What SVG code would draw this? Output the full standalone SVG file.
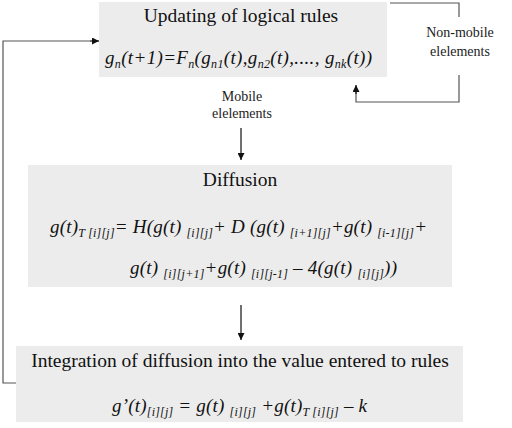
<svg xmlns="http://www.w3.org/2000/svg" width="512" height="428" viewBox="0 0 512 428">
<defs>
<marker id="ah" viewBox="0 0 10 10" refX="10" refY="5" markerWidth="7" markerHeight="7" markerUnits="userSpaceOnUse" orient="auto">
<path d="M0,0 L10,5 L0,10 Z" fill="#111"/>
</marker>
<style>
.box{fill:#ececec;stroke:none}
.title{font-size:19.5px;text-anchor:middle;fill:#111}
.f{font-size:19px;font-style:italic;fill:#111}
.s{font-size:12px}
.ln{fill:none;stroke:#555;stroke-width:1.2}
.ar{fill:none;stroke:#111;stroke-width:1.2;marker-end:url(#ah)}
</style>
</defs>
<rect width="512" height="428" fill="#fff"/>
<g id="connectors">
<polyline class="ln" points="16,383 3,383 3,41 90,41"/>
<line class="ar" x1="90" y1="41" x2="99" y2="41"/>
<polyline class="ln" points="390,3 459,3 459,17"/>
<polyline class="ln" points="459,75 459,102 356,102 356,92"/>
<line class="ar" x1="356" y1="94" x2="356" y2="85"/>
<line class="ar" x1="241" y1="128" x2="241" y2="160"/>
<line class="ar" x1="241" y1="305" x2="241" y2="340"/>
</g>
<g id="lbl-nonmobile">
<text font-family="Tinos, 'Liberation Serif', serif" font-size="14" text-anchor="middle" fill="#222" x="460" y="37">Non-mobile</text>
<text font-family="Tinos, 'Liberation Serif', serif" font-size="14" text-anchor="middle" fill="#222" x="460" y="56">elelements</text>
</g>
<g id="lbl-mobile">
<text font-family="Tinos, 'Liberation Serif', serif" font-size="14" text-anchor="middle" fill="#222" x="242" y="101">Mobile</text>
<text font-family="Tinos, 'Liberation Serif', serif" font-size="14" text-anchor="middle" fill="#222" x="242" y="118">elelements</text>
</g>
<g id="update">
<rect class="box" x="99" y="2" width="288" height="75"/>
<text class="title" font-family="'Liberation Serif'" x="241" y="22">Updating of logical rules</text>
<text class="f" font-family="'Liberation Serif'" x="105" y="64" textLength="267" lengthAdjust="spacing">g<tspan class="s" dy="4">n</tspan><tspan dy="-4">(t+1)=F</tspan><tspan class="s" dy="4">n</tspan><tspan dy="-4">(g</tspan><tspan class="s" dy="4">n1</tspan><tspan dy="-4">(t),g</tspan><tspan class="s" dy="4">n2</tspan><tspan dy="-4">(t),...., g</tspan><tspan class="s" dy="4">nk</tspan><tspan dy="-4">(t))</tspan></text>
</g>
<g id="diffusion">
<rect class="box" x="28" y="165" width="424" height="122"/>
<text class="title" font-family="'Liberation Serif'" x="240" y="186">Diffusion</text>
<text class="f" font-family="'Liberation Serif'" x="50" y="233" textLength="377" lengthAdjust="spacing">g(t)<tspan class="s" dy="4">T [i][j]</tspan><tspan dy="-4">= H(g(t) </tspan><tspan class="s" dy="4">[i][j]</tspan><tspan dy="-4">+ D (g(t) </tspan><tspan class="s" dy="4">[i+1][j]</tspan><tspan dy="-4">+g(t) </tspan><tspan class="s" dy="4">[i-1][j]</tspan><tspan dy="-4">+</tspan></text>
<text class="f" font-family="'Liberation Serif'" x="130" y="274" textLength="267" lengthAdjust="spacing">g(t) <tspan class="s" dy="4">[i][j+1]</tspan><tspan dy="-4">+g(t) </tspan><tspan class="s" dy="4">[i][j-1]</tspan><tspan dy="-4"> – 4(g(t) </tspan><tspan class="s" dy="4">[i][j]</tspan><tspan dy="-4">))</tspan></text>
</g>
<g id="integration">
<rect class="box" x="16" y="346" width="447" height="76"/>
<text class="title" font-family="'Liberation Serif'" x="240" y="367">Integration of diffusion into the value entered to rules</text>
<text class="f" font-family="'Liberation Serif'" x="112" y="412" textLength="255" lengthAdjust="spacing">g’(t)<tspan class="s" dy="4">[i][j]</tspan><tspan dy="-4"> = g(t) </tspan><tspan class="s" dy="4">[i][j]</tspan><tspan dy="-4"> +g(t)</tspan><tspan class="s" dy="4">T [i][j]</tspan><tspan dy="-4"> – k</tspan></text>
</g>
</svg>
